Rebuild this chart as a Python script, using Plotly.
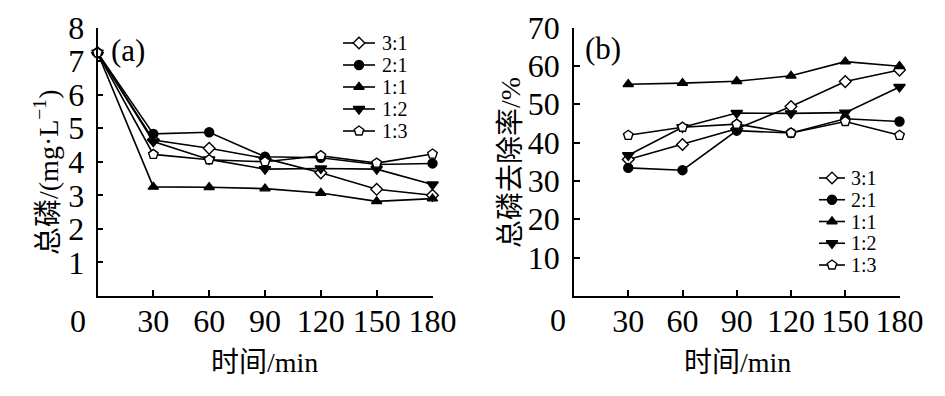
import plotly.graph_objects as go

# ---------------- data ----------------
ratios = ["3:1", "2:1", "1:1", "1:2", "1:3"]

time_a = [0, 30, 60, 90, 120, 150, 180]
tp_31 = [7.25, 4.65, 4.40, 4.10, 3.67, 3.18, 3.00]
tp_21 = [7.25, 4.83, 4.88, 4.15, 4.12, 3.92, 3.95]
tp_11 = [7.25, 3.25, 3.24, 3.20, 3.07, 2.82, 2.90]
tp_12 = [7.25, 4.60, 4.07, 3.78, 3.80, 3.78, 3.32]
tp_13 = [7.25, 4.22, 4.06, 4.00, 4.18, 3.96, 4.23]

time_b = [30, 60, 90, 120, 150, 180]
rm_31 = [35.6, 39.5, 43.6, 49.4, 55.9, 58.9]
rm_21 = [33.4, 32.8, 43.1, 42.5, 46.2, 45.5]
rm_11 = [55.2, 55.5, 56.0, 57.4, 61.1, 59.9]
rm_12 = [36.7, 44.0, 47.7, 47.6, 47.8, 54.5]
rm_13 = [41.9, 44.0, 44.8, 42.5, 45.5, 41.9]

x_ticks = [30, 60, 90, 120, 150, 180]
ya_ticks = [1, 2, 3, 4, 5, 6, 7, 8]
yb_ticks = [10, 20, 30, 40, 50, 60, 70]

# marker styles per ratio
styles = {
    "3:1": dict(symbol="diamond", color="white", size=9),
    "2:1": dict(symbol="circle", color="black", size=9),
    "1:1": dict(symbol="triangle-up", color="black", size=9),
    "1:2": dict(symbol="triangle-down", color="black", size=10),
    "1:3": dict(symbol="pentagon", color="white", size=10),
}

W, H = 945, 396
SERIF = "Liberation Serif, Noto Sans CJK SC, serif"

def px_x(p):
    return p / W

def px_y(p):
    return 1 - p / H

fig = go.Figure()

series_a = [tp_31, tp_21, tp_11, tp_12, tp_13]
series_b = [rm_31, rm_21, rm_11, rm_12, rm_13]

def add_series(xs, ys, name, xa, ya):
    st = styles[name]
    fig.add_trace(go.Scatter(
        x=xs, y=ys, name=name, mode="lines+markers",
        xaxis=xa, yaxis=ya, showlegend=False,
        line=dict(color="black", width=1.6),
        marker=dict(symbol=st["symbol"], size=st["size"], color=st["color"],
                    line=dict(color="black", width=1.4)),
        cliponaxis=False,
    ))

for name, ys in zip(ratios, series_a):
    add_series(time_a, ys, name, "x", "y")
for name, ys in zip(ratios, series_b):
    add_series(time_b, ys, name, "x2", "y2")

# ---- legends drawn on small overlay axes (legend geometry, not data) ----
row_idx = list(range(len(ratios)))

def add_legend(xa, ya, text_x_px, top_px, step_px):
    for i, name in zip(row_idx, ratios):
        st = styles[name]
        fig.add_trace(go.Scatter(
            x=[0, 1], y=[i, i], mode="lines", xaxis=xa, yaxis=ya,
            showlegend=False, hoverinfo="skip", cliponaxis=False,
            line=dict(color="black", width=1.6)))
        fig.add_trace(go.Scatter(
            x=[0.5], y=[i], mode="markers", xaxis=xa, yaxis=ya,
            showlegend=False, hoverinfo="skip", cliponaxis=False,
            marker=dict(symbol=st["symbol"], size=st["size"], color=st["color"],
                        line=dict(color="black", width=1.4))))
        fig.add_annotation(text=name, x=px_x(text_x_px), y=px_y(top_px + step_px * i),
                           xref="paper", yref="paper",
                           showarrow=False, xanchor="left", yanchor="middle",
                           font=dict(family=SERIF, size=20, color="black"))

add_legend("x3", "y3", 380, 43, 22)
add_legend("x4", "y4", 849, 178, 21.75)

axis_common = dict(
    showline=True, linecolor="black", linewidth=1.5,
    ticks="inside", ticklen=6, tickwidth=1.5, tickcolor="black",
    showgrid=False, zeroline=False, automargin=False,
    tickfont=dict(family=SERIF, size=32, color="black"),
)
hidden = dict(visible=False, showgrid=False, zeroline=False, automargin=False, fixedrange=True)
n = len(ratios)

fig.update_layout(
    width=W, height=H,
    margin=dict(l=0, r=0, t=0, b=0, autoexpand=False),
    paper_bgcolor="white", plot_bgcolor="white",
    showlegend=False,
    xaxis=dict(domain=[px_x(97.5), px_x(432.5)], range=[0, 180],
               tickvals=x_ticks, anchor="y", ticklabelstandoff=-4, **axis_common),
    yaxis=dict(domain=[px_y(296), px_y(27.5)], range=[0, 8],
               tickvals=ya_ticks, anchor="x", ticklabelstandoff=5, **axis_common),
    xaxis2=dict(domain=[px_x(574), px_x(899.5)], range=[0, 180],
                tickvals=x_ticks, anchor="y2", ticklabelstandoff=-4, **axis_common),
    yaxis2=dict(domain=[px_y(296), px_y(27.5)], range=[0, 70],
                tickvals=yb_ticks, anchor="x2", ticklabelstandoff=6, **axis_common),
    xaxis3=dict(domain=[px_x(343), px_x(375)], range=[0, 1], anchor="y3", **hidden),
    yaxis3=dict(domain=[px_y(43 + 22 * (n - 1) + 11), px_y(43 - 11)],
                range=[n - 0.5, -0.5], anchor="x3", **hidden),
    xaxis4=dict(domain=[px_x(819), px_x(845)], range=[0, 1], anchor="y4", **hidden),
    yaxis4=dict(domain=[px_y(178 + 21.75 * (n - 1) + 10.9), px_y(178 - 10.9)],
                range=[n - 0.5, -0.5], anchor="x4", **hidden),
)

ann_font = dict(family=SERIF, size=32, color="black")
title_font = dict(family=SERIF, size=28, color="black")
annotations = [
    dict(text="0", x=px_x(78), y=px_y(321), font=ann_font),
    dict(text="0", x=px_x(558), y=px_y(320), font=ann_font),
    dict(text="(a)", x=px_x(128), y=px_y(50), font=dict(family=SERIF, size=31, color="black")),
    dict(text="(b)", x=px_x(603), y=px_y(48), font=dict(family=SERIF, size=31, color="black")),
    dict(text="时间/min", x=px_x(264), y=px_y(362), font=title_font),
    dict(text="时间/min", x=px_x(737), y=px_y(362), font=title_font),
    dict(text="总磷/(mg·L<sup>−1</sup>)", x=px_x(46), y=px_y(172), textangle=-90, font=title_font),
    dict(text="总磷去除率/%", x=px_x(511), y=px_y(163), textangle=-90, font=title_font),
]
for a in annotations:
    a.update(xref="paper", yref="paper", showarrow=False, xanchor="center", yanchor="middle")
    fig.add_annotation(**a)

fig.write_html("out.html", config={"displayModeBar": False},
               post_script="document.body.style.margin='0';document.body.style.overflow='hidden';")
